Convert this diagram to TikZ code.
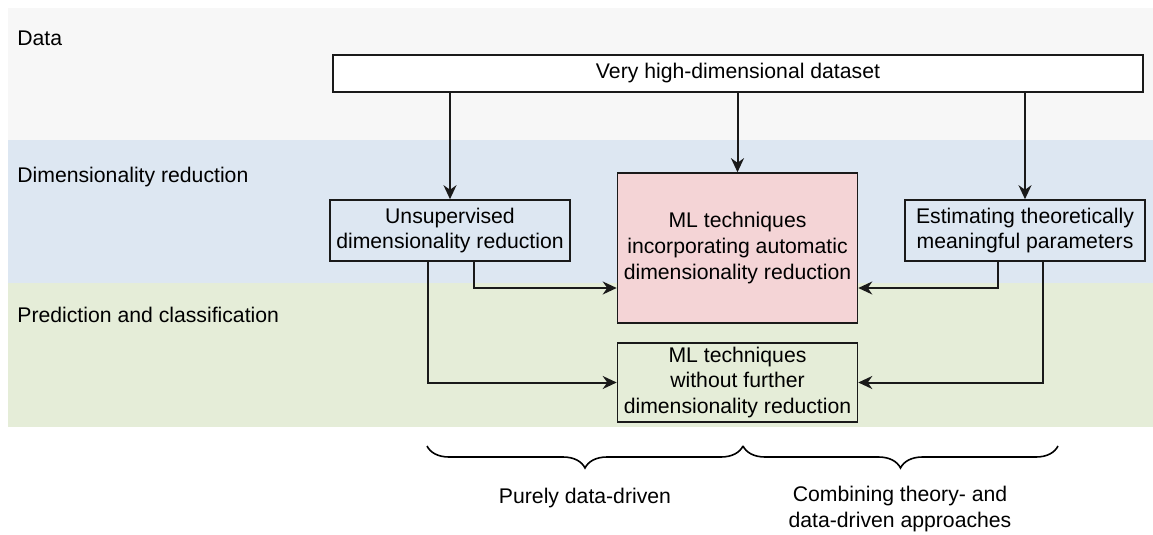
\documentclass[tikz,border=0pt]{standalone}
\usepackage{fontspec}
\setmainfont{Liberation Sans}
\usetikzlibrary{arrows.meta, positioning, calc, decorations.pathreplacing}
\definecolor{databg}{HTML}{F7F7F7}
\definecolor{reducebg}{HTML}{DDE7F2}
\definecolor{predictbg}{HTML}{E5EDD8}
\definecolor{mlred}{HTML}{F4D4D6}
\definecolor{edgecolor}{HTML}{1A1A1A}

\begin{document}
\begin{tikzpicture}[
  x=0.5pt, y=-0.5pt,
  box/.style={
    rectangle, draw=edgecolor, line width=0.8pt,
    minimum width=120pt, inner sep=2pt,
    font=\fontsize{10.6}{12.8}\selectfont, align=center
  },
  lane/.style={font=\fontsize{10.6}{12.8}\selectfont, anchor=west, inner sep=0pt},
  arr/.style={-{Stealth[length=7pt, width=6.5pt]}, line width=1pt, draw=edgecolor},
  curly/.style={decorate, decoration={brace, amplitude=11pt, mirror}, line width=0.8pt},
]
  \useasboundingbox (0,0) rectangle (1153,535);

  % Lane backgrounds
  \fill[databg]    (8,8)   rectangle (1153,140);
  \fill[reducebg]  (8,140) rectangle (1153,283);
  \fill[predictbg] (8,283) rectangle (1153,427);

  \node[lane] (ldata)    at (17,38)  {Data};
  \node[lane] (lreduce)  at (17,177) {Dimensionality reduction};
  \node[lane] (lpredict) at (17,315) {Prediction and classification};

  % Boxes
  \node[box, fill=white, minimum width=405pt, minimum height=18.5pt] (dataset) at (738,73.5)
    {Very high-dimensional dataset};
  \node[box, minimum height=30.5pt] (unsup) at (450,230.5)
    {Unsupervised\\dimensionality reduction};
  \node[box, fill=mlred, minimum height=75pt] (mlauto) at (737.5,248)
    {ML techniques\\incorporating automatic\\dimensionality reduction};
  \node[box, minimum height=39.5pt] (mlplain) at (737.5,382.5)
    {ML techniques\\without further\\dimensionality reduction};
  \node[box, minimum height=30.5pt] (theory) at (1025,230.5)
    {Estimating theoretically\\meaningful parameters};

  % Arrows from the dataset
  \draw[arr] (unsup.north |- dataset.south)  -- (unsup.north);
  \draw[arr] (mlauto.north |- dataset.south) -- (mlauto.north);
  \draw[arr] (theory.north |- dataset.south) -- (theory.north);

  % Arrows into the ML boxes
  \draw[arr] ([xshift=12pt]unsup.south)    |- ([yshift=-20pt]mlauto.west);
  \draw[arr] ([xshift=-11pt]unsup.south)   |- (mlplain.west);
  \draw[arr] ([xshift=-13.5pt]theory.south) |- ([yshift=-20pt]mlauto.east);
  \draw[arr] ([xshift=9pt]theory.south)    |- (mlplain.east);

  % Braces
  \coordinate (b1) at (427,446);
  \coordinate (b2) at (743,446);
  \coordinate (b3) at (1058,446);
  \draw[curly] (b1) -- (b2);
  \draw[curly] (b2) -- (b3);

  \node[lane, anchor=center] (pure) at (585,498) {Purely data-driven};
  \node[lane, anchor=center, align=center] (combined) at (900,509)
    {Combining theory- and\\data-driven approaches};
\end{tikzpicture}
\end{document}
